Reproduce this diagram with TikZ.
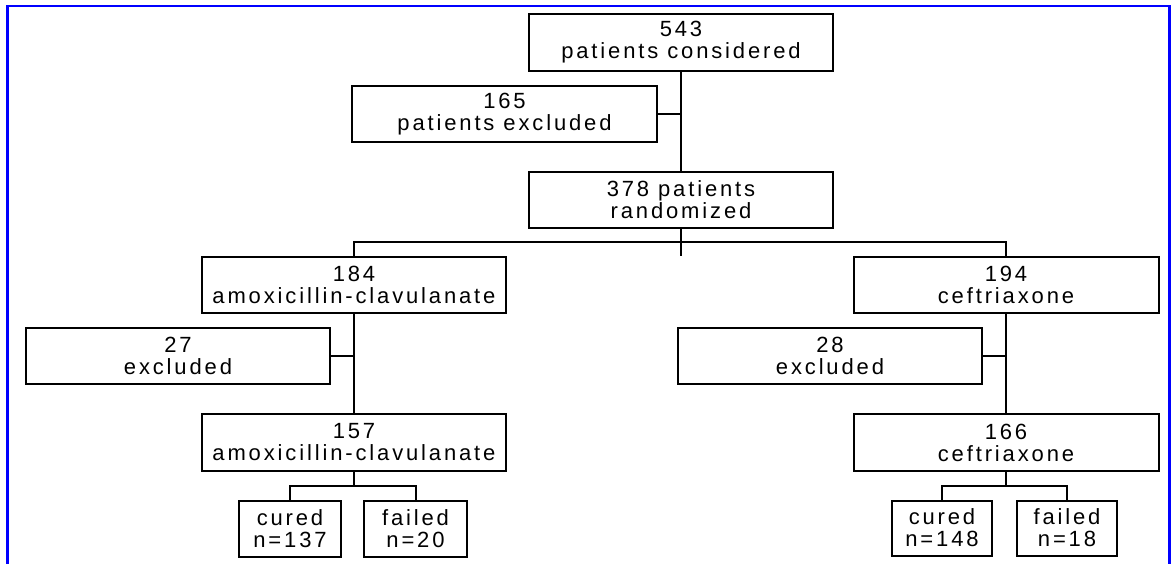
\documentclass[tikz,border=0pt]{standalone}
\usepackage{fontspec}
\setmainfont{Liberation Sans}[LetterSpace=13]

\tikzset{
    box/.style={draw, line width=2pt, align=center, inner sep=0pt,
        font=\fontsize{22}{22}\selectfont},
    link/.style={line width=2pt},
}

\begin{document}
\begin{tikzpicture}[x=1pt, y=-1pt]
        \useasboundingbox (0,0) rectangle (1171,564);

        % Cornice blu
        \draw[blue, line width=2.7pt] (7.3,564) -- (7.3,6) -- (1169.5,6) -- (1169.5,564);

        % Parte alta
        \node[box, minimum width=304pt, minimum height=57pt] (considered) at (681,42.5) {543\\patients considered};
        \node[box, minimum width=305pt, minimum height=56pt] (excl0) at (504.5,114) {165\\patients excluded};
        \node[box, minimum width=304pt, minimum height=56pt] (randomized) at (681,200) {378 patients\\randomized};

        % Braccio amoxicillina
        \node[box, minimum width=304pt, minimum height=56pt] (amox1) at (354,285) {184\\amoxicillin-clavulanate};
        \node[box, minimum width=304pt, minimum height=56pt] (excl1) at (178,356) {27\\excluded};
        \node[box, minimum width=304pt, minimum height=57pt] (amox2) at (354,442.5) {157\\amoxicillin-clavulanate};
        \node[box, minimum width=102pt, minimum height=56pt] (cure1) at (290,529) {cured\\n=137};
        \node[box, minimum width=103pt, minimum height=56pt] (fail1) at (415.5,529) {failed\\n=20};

        % Braccio ceftriaxone
        \node[box, minimum width=305pt, minimum height=56pt] (ceft1) at (1006,285) {194\\ceftriaxone};
        \node[box, minimum width=304pt, minimum height=56pt] (excl2) at (830,356) {28\\excluded};
        \node[box, minimum width=305pt, minimum height=57pt] (ceft2) at (1006,442.5) {166\\ceftriaxone};
        \node[box, minimum width=100pt, minimum height=55pt] (cure2) at (942,528) {cured\\n=148};
        \node[box, minimum width=100pt, minimum height=55pt] (fail2) at (1067,528) {failed\\n=18};

        % Punti di diramazione
        \coordinate (split) at (681,242);
        \coordinate (stub) at (681,256);
        \coordinate (fork1) at (354,486);
        \coordinate (fork2) at (1006,486);

        % Collegamenti
        \draw[link] (considered.south) -- (randomized.north);
        \draw[link] (excl0.east) -- (excl0.east -| considered.south);
        \draw[line width=1.2pt] (randomized.south) -- (stub);
        \draw[link] (amox1.north) -- (amox1.north |- split) -- (ceft1.north |- split) -- (ceft1.north);

        \draw[link] (amox1.south) -- (amox2.north);
        \draw[link] (excl1.east) -- (excl1.east -| amox1.south);
        \draw[link] (amox2.south) -- (fork1);
        \draw[link] (cure1.north) |- (fork1) -| (fail1.north);

        \draw[link] (ceft1.south) -- (ceft2.north);
        \draw[link] (excl2.east) -- (excl2.east -| ceft1.south);
        \draw[link] (ceft2.south) -- (fork2);
        \draw[link] (cure2.north) |- (fork2) -| (fail2.north);
    \end{tikzpicture}
\end{document}
